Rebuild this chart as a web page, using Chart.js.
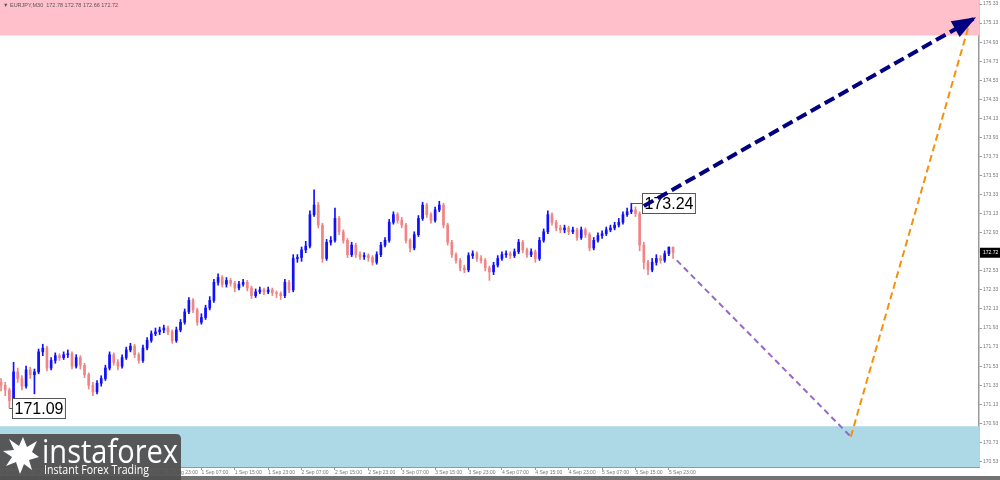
<!DOCTYPE html>
<html>
<head>
<meta charset="utf-8">
<script src="https://cdn.jsdelivr.net/npm/chart.js@4.4.1/dist/chart.umd.min.js"></script>
<style>
html, body { margin: 0; padding: 0; background: #fff; overflow: hidden; }
#wrap { width: 1000px; height: 480px; }
</style>
</head>
<body>
<div id="wrap"><canvas id="chart" width="1000" height="480"></canvas></div>
<script>
// EURJPY, one candle per hour, 28 Aug 07:00 .. 5 Sep 23:00
var firstOpen = 171.36;
var closes = [
171.33,171.28,171.17,171.47,171.40,171.32,171.49,171.44,171.47,171.68,
171.72,171.51,171.59,171.64,171.62,171.65,171.66,171.53,171.62,171.54,
171.44,171.33,171.26,171.35,171.40,171.51,171.65,171.57,171.53,171.62,
171.70,171.74,171.65,171.59,171.72,171.80,171.87,171.89,171.91,171.93,
171.89,171.80,171.91,171.99,172.10,172.22,172.12,171.99,172.04,172.14,
172.22,172.41,172.46,172.39,172.43,172.40,172.35,172.39,172.41,172.35,
172.27,172.31,172.33,172.31,172.33,172.30,172.29,172.27,172.41,172.33,
172.66,172.67,172.75,172.79,173.12,173.22,173.01,172.66,172.83,172.85,
173.08,172.94,172.85,172.70,172.80,172.70,172.68,172.69,172.67,172.62,
172.70,172.80,172.85,173.04,173.12,173.06,173.01,172.85,172.77,172.91,
173.08,173.22,173.12,173.06,173.17,173.22,173.01,172.83,172.70,172.64,
172.56,172.54,172.69,172.71,172.66,172.64,172.56,172.52,172.59,172.66,
172.70,172.71,172.69,172.73,172.83,172.75,172.70,172.73,172.66,172.85,
172.94,173.12,173.04,172.98,172.96,172.98,172.94,172.96,172.88,172.96,
172.91,172.77,172.85,172.90,172.92,172.96,172.98,173.01,173.04,173.12,
173.15,173.17,173.13,172.80,172.62,172.54,172.62,172.66,172.64,172.71,
172.78,172.72
];
var highs = [
171.40,171.36,171.30,171.57,171.51,171.43,171.53,171.52,171.50,171.71,
171.76,171.74,171.62,171.67,171.66,171.68,171.70,171.68,171.65,171.64,
171.56,171.46,171.36,171.38,171.43,171.54,171.68,171.67,171.60,171.65,
171.73,171.77,171.76,171.67,171.75,171.83,171.90,171.93,171.94,171.96,
171.95,171.91,171.94,172.02,172.13,172.25,172.24,172.14,172.08,172.17,
172.26,172.44,172.50,172.48,172.46,172.45,172.42,172.42,172.44,172.43,
172.37,172.34,172.36,172.35,172.36,172.35,172.32,172.31,172.44,172.43,
172.70,172.70,172.78,172.84,173.16,173.38,173.25,173.03,172.86,172.89,
173.19,173.10,172.96,172.87,172.83,172.82,172.73,172.72,172.71,172.69,
172.73,172.83,172.88,173.07,173.15,173.14,173.09,173.03,172.87,172.94,
173.11,173.25,173.24,173.14,173.20,173.26,173.24,173.03,172.85,172.72,
172.66,172.59,172.72,172.74,172.73,172.69,172.66,172.58,172.62,172.69,
172.73,172.74,172.73,172.76,172.86,172.85,172.77,172.76,172.75,172.88,
172.97,173.16,173.14,173.06,173.01,173.01,173.00,172.99,172.98,172.99,
172.98,172.93,172.88,172.93,172.95,172.99,173.01,173.04,173.08,173.15,
173.19,173.24,173.20,173.15,172.83,172.64,172.66,172.70,172.69,172.74,
172.78,172.78
];
var lows = [
171.27,171.22,171.09,171.15,171.36,171.28,171.30,171.40,171.24,171.45,
171.64,171.48,171.49,171.56,171.59,171.60,171.62,171.50,171.51,171.50,
171.41,171.29,171.22,171.24,171.32,171.38,171.49,171.54,171.49,171.51,
171.60,171.68,171.62,171.56,171.57,171.70,171.78,171.85,171.86,171.88,
171.86,171.77,171.78,171.89,171.97,172.08,172.09,171.96,171.97,172.02,
172.12,172.20,172.38,172.36,172.36,172.37,172.31,172.33,172.37,172.32,
172.24,172.25,172.29,172.28,172.29,172.27,172.25,172.23,172.25,172.30,
172.31,172.62,172.63,172.72,172.77,173.10,172.98,172.62,172.64,172.80,
172.83,172.91,172.82,172.67,172.68,172.67,172.65,172.65,172.63,172.59,
172.60,172.68,172.78,172.83,173.02,173.03,172.98,172.82,172.73,172.75,
172.89,173.06,173.09,173.03,173.04,173.15,172.98,172.80,172.67,172.61,
172.53,172.51,172.52,172.66,172.63,172.61,172.53,172.43,172.49,172.57,
172.64,172.67,172.66,172.67,172.71,172.72,172.67,172.68,172.62,172.64,
172.83,172.92,173.01,172.95,172.93,172.93,172.91,172.92,172.85,172.86,
172.88,172.74,172.75,172.83,172.87,172.90,172.94,172.96,172.99,173.02,
173.10,173.13,173.10,172.74,172.55,172.49,172.52,172.59,172.61,172.62,
172.69,172.66
];

var timeLabels = ['28 Aug 07:00','28 Aug 15:00','28 Aug 23:00','29 Aug 07:00','29 Aug 15:00',
  '29 Aug 23:00','1 Sep 07:00','1 Sep 15:00','1 Sep 23:00','2 Sep 07:00','2 Sep 15:00',
  '2 Sep 23:00','3 Sep 07:00','3 Sep 15:00','3 Sep 23:00','4 Sep 07:00','4 Sep 15:00',
  '4 Sep 23:00','5 Sep 07:00','5 Sep 15:00','5 Sep 23:00'];
var priceTicks = ['175.33','175.13','174.93','174.73','174.53','174.33','174.13','173.93',
  '173.73','173.53','173.33','173.13','172.93','172.73','172.53','172.33','172.13','171.93',
  '171.73','171.53','171.33','171.13','170.93','170.73','170.53'];

// zones and forecast paths (x = candle index in hours)
var supplyZone = [175.00, 175.40];
var demandZone = [170.40, 170.90];
var mainPath = [{x: 154, y: 173.21}, {x: 233.6, y: 175.19}];
var dropPath = [{x: 161.9, y: 172.64}, {x: 203.6, y: 170.79}];
var risePath = [{x: 203.6, y: 170.79}, {x: 231.9, y: 175.11}];
var marks = [{i: 2, price: 171.09, text: '171.09'}, {i: 151, price: 173.24, text: '173.24'}];
var title = '\u25BC EURJPY,M30  172.78 172.78 172.66 172.72';

var opens = closes.map(function(c, i) { return i === 0 ? firstOpen : closes[i - 1]; });
var candleColor = closes.map(function(c, i) { return c >= opens[i] ? '#1010ff' : '#f08585'; });

function fillZone(ctx, area, y, zone, color) {
    var top = y.getPixelForValue(zone[1]);
    var bot = y.getPixelForValue(zone[0]);
    ctx.fillStyle = color;
    ctx.fillRect(area.left, top, area.right - area.left, bot - top);
}

var overlay = {
    id: 'overlay',
    beforeDatasetsDraw: function(chart) {
        var ctx = chart.ctx, a = chart.chartArea, y = chart.scales.y;
        ctx.save();
        ctx.beginPath();
        ctx.rect(a.left, a.top, a.right - a.left, a.bottom - a.top);
        ctx.clip();
        fillZone(ctx, a, y, supplyZone, '#ffc0cb');
        fillZone(ctx, a, y, demandZone, '#add8e6');
        ctx.restore();
    },
    afterDatasetDraw: function(chart, args) {
        if (args.index !== 1) return;
        var ctx = chart.ctx, x = chart.scales.x, y = chart.scales.y;
        var gaps = [3, 11];
        ctx.save();
        marks.forEach(function(m, k) {
            var cx = x.getPixelForValue(m.i);
            var py = Math.round(y.getPixelForValue(m.price)) + 0.5;
            var bx = Math.round(cx + gaps[k]) + 0.5;
            ctx.font = '16px "Liberation Sans", Arial, sans-serif';
            var w = ctx.measureText(m.text).width + 4;
            ctx.strokeStyle = '#555';
            ctx.lineWidth = 1;
            ctx.beginPath();
            ctx.moveTo(cx, py);
            ctx.lineTo(bx, py);
            ctx.stroke();
            ctx.fillStyle = '#fff';
            ctx.fillRect(bx, py - 10, w, 20);
            ctx.strokeRect(bx, py - 10, w, 20);
            ctx.fillStyle = '#000';
            ctx.textBaseline = 'middle';
            ctx.fillText(m.text, bx + 2, py + 1);
        });
        ctx.restore();
    },
    afterDatasetsDraw: function(chart) {
        var ctx = chart.ctx, y = chart.scales.y;
        // arrow head on the main forecast
        var pts = chart.getDatasetMeta(2).data;
        var p0 = pts[0], p1 = pts[1];
        var ang = Math.atan2(p1.y - p0.y, p1.x - p0.x);
        var L = 24, W = 9;
        var bx = p1.x - L * Math.cos(ang), by = p1.y - L * Math.sin(ang);
        ctx.save();
        ctx.fillStyle = '#000080';
        ctx.beginPath();
        ctx.moveTo(p1.x, p1.y);
        ctx.lineTo(bx + W * Math.sin(ang), by - W * Math.cos(ang));
        ctx.lineTo(bx - W * Math.sin(ang), by + W * Math.cos(ang));
        ctx.closePath();
        ctx.fill();
        // last price box on the axis
        var last = closes[closes.length - 1];
        var ly = y.getPixelForValue(last);
        ctx.fillStyle = '#000';
        ctx.fillRect(980, ly - 5, 20, 10);
        ctx.fillStyle = '#fff';
        ctx.font = '5px "Liberation Sans", Arial, sans-serif';
        ctx.textBaseline = 'middle';
        ctx.fillText(last.toFixed(2), 983, ly);
        ctx.restore();
    },
    afterDraw: function(chart) {
        var ctx = chart.ctx;
        ctx.save();
        ctx.fillStyle = '#555';
        ctx.font = '5.5px "Liberation Sans", Arial, sans-serif';
        ctx.textBaseline = 'middle';
        ctx.fillText(title, 3, 5);
        // window frame at the bottom
        ctx.fillStyle = '#737373';
        ctx.fillRect(0, 476, 1000, 4);
        // logo
        ctx.fillStyle = 'rgba(80,80,80,0.95)';
        ctx.beginPath();
        ctx.moveTo(0, 434);
        ctx.lineTo(176, 434);
        ctx.quadraticCurveTo(181, 434, 181, 439);
        ctx.lineTo(181, 480);
        ctx.lineTo(0, 480);
        ctx.closePath();
        ctx.fill();
        ctx.fillStyle = '#fff';
        ctx.beginPath();
        ctx.moveTo(20, 474);
        ctx.lineTo(16, 462);
        ctx.lineTo(6, 466);
        ctx.lineTo(12, 457);
        ctx.lineTo(3, 451);
        ctx.lineTo(14, 450);
        ctx.lineTo(9, 439);
        ctx.lineTo(19, 446);
        ctx.lineTo(23, 437);
        ctx.lineTo(27, 447);
        ctx.lineTo(37, 441);
        ctx.lineTo(32, 452);
        ctx.lineTo(39, 457);
        ctx.lineTo(29, 460);
        ctx.lineTo(32, 470);
        ctx.lineTo(24, 464);
        ctx.closePath();
        ctx.fill();
        ctx.font = '32px "Open Sans", sans-serif';
        ctx.textBaseline = 'alphabetic';
        var tw = ctx.measureText('instaforex').width;
        ctx.save();
        ctx.translate(42, 463);
        ctx.scale(136 / tw, 1);
        ctx.fillText('instaforex', 0, 0);
        ctx.restore();
        ctx.font = '12px "Open Sans", sans-serif';
        var sw = ctx.measureText('Instant Forex Trading').width;
        ctx.save();
        ctx.translate(44, 474);
        ctx.scale(105 / sw, 1);
        ctx.fillText('Instant Forex Trading', 0, 0);
        ctx.restore();
        ctx.restore();
    }
};

var bodies = closes.map(function(c, i) { return {x: i, y: [opens[i], c]}; });
var wicks = closes.map(function(c, i) { return {x: i, y: [lows[i], highs[i]]}; });

new Chart(document.getElementById('chart'), {
    type: 'bar',
    data: {
        datasets: [
            {type: 'bar', data: wicks, backgroundColor: candleColor, barThickness: 1, grouped: false, order: 3},
            {type: 'bar', data: bodies, backgroundColor: candleColor, barThickness: 2, minBarLength: 1, grouped: false, order: 2},
            {type: 'line', data: mainPath, borderColor: '#000080', borderWidth: 4, borderDash: [11, 5], pointRadius: 0, fill: false, order: 0},
            {type: 'line', data: dropPath, borderColor: '#9966cc', borderWidth: 2, borderDash: [6, 4], pointRadius: 0, fill: false, order: 1},
            {type: 'line', data: risePath, borderColor: '#f5900a', borderWidth: 2, borderDash: [7, 4], pointRadius: 0, fill: false, order: 1}
        ]
    },
    options: {
        responsive: false,
        animation: false,
        devicePixelRatio: 1,
        layout: {padding: 0},
        plugins: {legend: {display: false}, tooltip: {enabled: false}},
        scales: {
            x: {
                type: 'linear',
                min: -0.25,
                max: 234.3,
                offset: false,
                afterBuildTicks: function(s) {
                    s.ticks = timeLabels.map(function(t, k) { return {value: k * 8}; });
                },
                afterFit: function(s) { s.height = 13; s.paddingLeft = 0; s.paddingRight = 0; },
                ticks: {
                    autoSkip: false, maxRotation: 0, minRotation: 0, align: 'start', padding: 0,
                    color: '#777',
                    font: {size: 5, family: '"Liberation Sans", Arial, sans-serif'},
                    callback: function(v) { return timeLabels[Math.round(v / 8)]; }
                },
                grid: {display: true, drawOnChartArea: false, offset: false, tickLength: 3, color: '#999'},
                border: {display: true, color: '#999', width: 1}
            },
            y: {
                type: 'linear',
                position: 'right',
                min: 170.472,
                max: 175.372,
                afterBuildTicks: function(s) {
                    s.ticks = priceTicks.map(function(t) { return {value: parseFloat(t)}; });
                },
                afterFit: function(s) { s.width = 21; s.paddingTop = 0; s.paddingBottom = 0; },
                ticks: {
                    autoSkip: false, padding: 1, color: '#777',
                    font: {size: 5, family: '"Liberation Sans", Arial, sans-serif'},
                    callback: function(v) { return v.toFixed(2); }
                },
                grid: {display: true, drawOnChartArea: false, tickLength: 3, color: '#999'},
                border: {display: true, color: '#999', width: 1.5}
            }
        }
    },
    plugins: [overlay]
});
</script>
</body>
</html>
